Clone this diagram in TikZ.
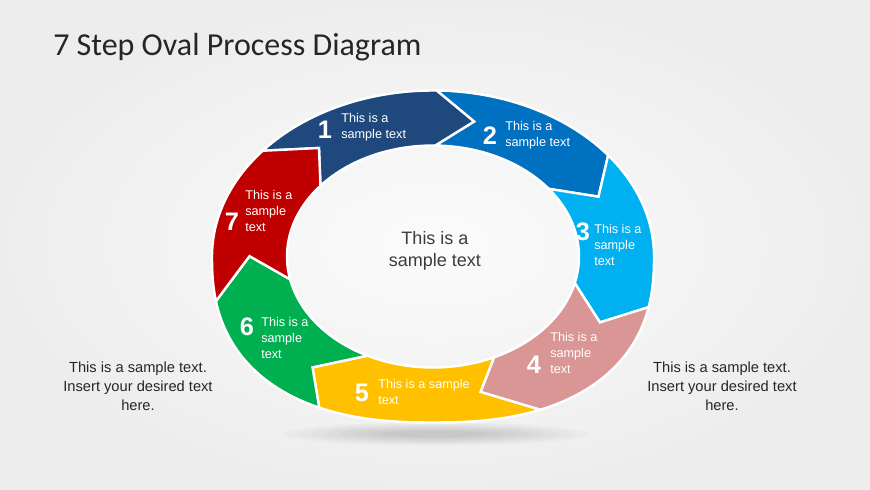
\documentclass[tikz,border=0pt]{standalone}
\usepackage{fontspec}
\setmainfont{Liberation Sans}
\newfontfamily\titlefont{Carlito}
\usetikzlibrary{positioning}
\definecolor{stepone}{RGB}{31,73,125}
\definecolor{steptwo}{RGB}{0,112,192}
\definecolor{stepthree}{RGB}{0,176,240}
\definecolor{stepfour}{RGB}{217,150,148}
\definecolor{stepfive}{RGB}{255,192,0}
\definecolor{stepsix}{RGB}{0,176,80}
\definecolor{stepseven}{RGB}{192,0,0}
\definecolor{darktext}{RGB}{38,38,38}

\begin{document}
\begin{tikzpicture}[x=0.75pt,y=0.75pt,
    declare function={
        oxf(\t)=221*cos(\t)*((sin(\t)<0) ? (abs(cos(\t))+0.0001)^(-0.17) : 1);
        oyf(\t)=166*sin(\t)*((sin(\t)<0) ? (abs(sin(\t))+0.0001)^(-0.17) : 1);
        ixf(\t)=146*cos(\t);
        iyf(\t)=111*sin(\t);
    },
    num/.style={font=\bfseries\fontsize{19}{19}\selectfont, text=white, inner sep=0pt},
    lbl/.style={font=\fontsize{9.5}{12}\selectfont, text=white, align=left, anchor=west, inner sep=0pt},
    side/.style={font=\fontsize{11}{14.2}\selectfont, text=darktext, align=center, inner sep=0pt}
]
\useasboundingbox (0,0) rectangle (870,489);
\shade[inner color=gray!3, outer color=gray!14] (0,0) rectangle (870,489);

% title
\node[anchor=base west, inner sep=0pt, text=darktext, font=\titlefont\fontsize{24}{24}\selectfont] (title) at (53,433) {7 Step Oval Process Diagram};

% soft shadow under the ring
\foreach \r in {1,...,8}{
    \fill[black, opacity=0.018] (435,55) ellipse[x radius=40+14*\r, y radius=2+1.2*\r];
}

% ring of seven arrows
\begin{scope}[shift={(433,232.5)}]
\foreach \k/\col in {1/stepone,2/steptwo,3/stepthree,4/stepfour,5/stepfive,6/stepsix,7/stepseven}{
    \pgfmathsetmacro{\T}{77-51.4286*(\k-1)}
    \pgfmathsetmacro{\H}{\T+12}
    \pgfmathsetmacro{\S}{\T+63.4286}
    \pgfmathsetmacro{\N}{\T+51.4286}
    \filldraw[fill=\col, draw=white, line width=1.8pt, line join=miter]
        plot[domain=\S:\H, samples=30] ({oxf(\x)},{oyf(\x)})
        -- ({(oxf(\T)+ixf(\T))/2},{(oyf(\T)+iyf(\T))/2})
        -- plot[domain=\H:\S, samples=30] ({ixf(\x)},{iyf(\x)})
        -- ({(oxf(\N)+ixf(\N))/2},{(oyf(\N)+iyf(\N))/2}) -- cycle;
}
\end{scope}

% step labels
\node[num] (n1) at (325,359) {1};
\node[lbl] (t1) at (341,362) {This is a\\sample text};
\node[num] (n2) at (490,353) {2};
\node[lbl] (t2) at (505,354) {This is a\\sample text};
\node[num] (n3) at (583,257) {3};
\node[lbl] (t3) at (594,244) {This is a\\sample\\text};
\node[num] (n4) at (534,124) {4};
\node[lbl] (t4) at (550,136) {This is a\\sample\\text};
\node[num] (n5) at (362,96) {5};
\node[lbl] (t5) at (378,97) {This is a sample\\text};
\node[num] (n6) at (247,162) {6};
\node[lbl] (t6) at (261,151) {This is a\\sample\\text};
\node[num] (n7) at (232,267) {7};
\node[lbl] (t7) at (245,278) {This is a\\sample\\text};

% centre and side texts
\node[align=center, inner sep=0pt, text=darktext!90!white, font=\fontsize{13.5}{16.5}\selectfont] (centre) at (435,238) {This is a\\sample text};
\node[side] (left) at (138,103) {This is a sample text.\\Insert your desired text\\here.};
\node[side] (right) at (722,103) {This is a sample text.\\Insert your desired text\\here.};

\end{tikzpicture}
\end{document}
